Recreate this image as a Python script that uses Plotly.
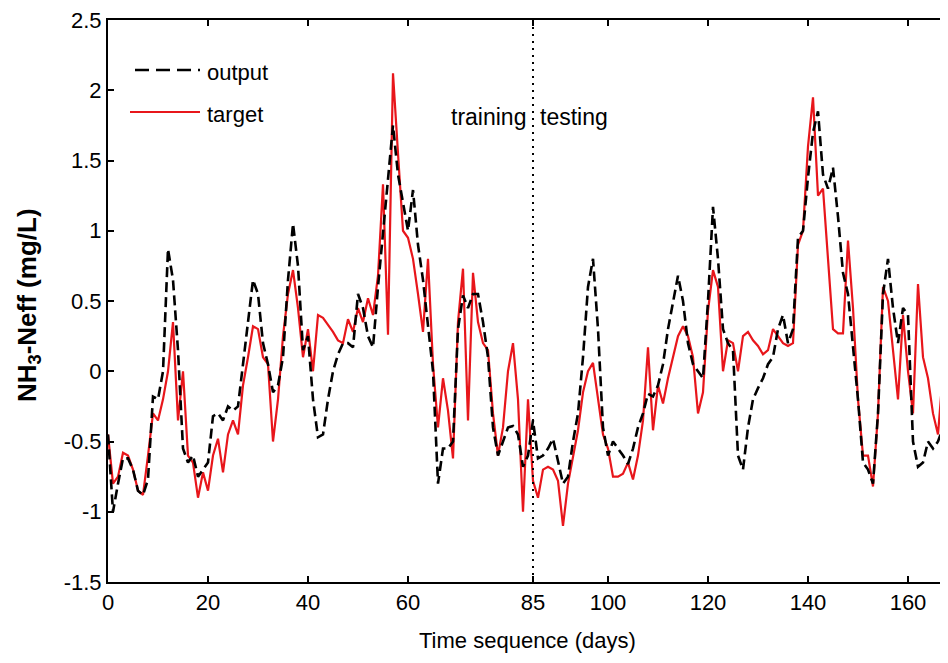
import plotly.graph_objects as go

days = list(range(0, 169))

target = [
    -0.45, -0.80, -0.75, -0.58, -0.60, -0.70, -0.85, -0.88, -0.60, -0.30,
    -0.35, -0.20, 0.00, 0.35, -0.35, 0.00, -0.60, -0.65, -0.90, -0.72,
    -0.85, -0.60, -0.48, -0.72, -0.45, -0.35, -0.45, -0.10, 0.10, 0.32,
    0.30, 0.10, 0.05, -0.50, -0.20, 0.25, 0.55, 0.72, 0.45, 0.10,
    0.30, 0.00, 0.40, 0.38, 0.33, 0.28, 0.22, 0.20, 0.37, 0.28,
    0.45, 0.35, 0.52, 0.40, 0.68, 1.33, 0.26, 2.12, 1.55, 1.00,
    0.95, 0.80, 0.55, 0.28, 0.80, 0.05, -0.40, -0.05, -0.28, -0.62,
    0.35, 0.73, -0.35, 0.70, 0.35, 0.20, 0.15, -0.30, -0.60, -0.40,
    0.00, 0.20, -0.20, -1.00, -0.20, -0.78, -0.90, -0.70, -0.68, -0.70,
    -0.78, -1.10, -0.80, -0.60, -0.42, -0.15, 0.00, 0.06, -0.20, -0.45,
    -0.55, -0.75, -0.75, -0.73, -0.65, -0.77, -0.60, -0.35, 0.17, -0.42,
    -0.10, -0.23, -0.05, 0.10, 0.25, 0.32, 0.25, 0.10, -0.30, -0.15,
    0.43, 0.72, 0.60, 0.00, 0.22, 0.20, 0.00, 0.25, 0.28, 0.22,
    0.18, 0.12, 0.15, 0.30, 0.25, 0.20, 0.18, 0.20, 0.90, 1.00,
    1.60, 1.95, 1.25, 1.30, 0.80, 0.30, 0.27, 0.27, 0.93, 0.45,
    -0.20, -0.60, -0.60, -0.82, -0.30, 0.60, 0.50, 0.17, -0.20, 0.40,
    0.00, -0.30, 0.62, 0.10, -0.05, -0.30, -0.45, 0.00, -0.40,
]

output = [
    -0.45, -1.00, -0.80, -0.62, -0.62, -0.70, -0.85, -0.88, -0.77, -0.18,
    -0.20, 0.00, 0.87, 0.65, 0.15, -0.55, -0.65, -0.60, -0.75, -0.70,
    -0.65, -0.32, -0.30, -0.35, -0.25, -0.28, -0.25, 0.05, 0.35, 0.65,
    0.55, 0.20, 0.05, -0.15, -0.10, 0.10, 0.65, 1.05, 0.75, 0.15,
    0.25, -0.20, -0.47, -0.45, -0.20, 0.00, 0.12, 0.20, 0.20, 0.17,
    0.55, 0.45, 0.25, 0.17, 0.60, 1.00, 1.40, 1.75, 1.40, 1.20,
    1.00, 1.29, 0.90, 0.65, 0.30, 0.00, -0.80, -0.55, -0.55, -0.50,
    0.30, 0.54, 0.45, 0.55, 0.55, 0.35, 0.10, -0.40, -0.60, -0.50,
    -0.40, -0.39, -0.45, -0.68, -0.60, -0.35, -0.62, -0.60, -0.55, -0.48,
    -0.65, -0.80, -0.75, -0.50, -0.30, 0.10, 0.60, 0.80, 0.30, -0.40,
    -0.60, -0.50, -0.55, -0.60, -0.66, -0.55, -0.40, -0.30, -0.16, -0.18,
    -0.10, 0.05, 0.30, 0.50, 0.68, 0.50, 0.20, 0.05, 0.00, -0.05,
    0.50, 1.17, 0.80, 0.30, 0.20, 0.15, -0.60, -0.70, -0.40, -0.20,
    -0.12, -0.05, 0.05, 0.10, 0.30, 0.40, 0.20, 0.30, 0.95, 1.00,
    1.38, 1.70, 1.85, 1.40, 1.30, 1.45, 1.10, 0.70, 0.55, 0.20,
    -0.20, -0.65, -0.70, -0.80, -0.30, 0.55, 0.80, 0.45, 0.20, 0.45,
    0.40, -0.50, -0.68, -0.65, -0.50, -0.55, -0.50, -0.40, -0.45,
]

x_ticks = [0, 20, 40, 60, 85, 100, 120, 140, 160]
y_ticks = [-1.5, -1, -0.5, 0, 0.5, 1, 1.5, 2, 2.5]
y_tick_labels = ["-1.5", "-1", "-0.5", "0", "0.5", "1", "1.5", "2", "2.5"]
split_day = 85

FONT = "Liberation Sans, Arial, sans-serif"
RED = "#e8161b"

fig = go.Figure()
fig.add_trace(go.Scatter(x=days, y=target, mode="lines", name="target",
                         line=dict(color=RED, width=2.2), showlegend=False))
fig.add_trace(go.Scatter(x=days, y=output, mode="lines", name="output",
                         line=dict(color="black", width=2.6, dash="10px,5px"), showlegend=False))

# split line
fig.add_shape(type="line", xref="x", yref="y", x0=split_day, x1=split_day, y0=-1.5, y1=2.5,
              line=dict(color="black", width=2, dash="2px,5px"))

# page offset of 8px (body margin); plot area on page: x 108..947, y 20..582
L, W, B, H = 108, 839, 582, 562
def px(xp): return (xp - L) / W
def py(yp): return (B - yp) / H
fig.add_shape(type="line", xref="paper", yref="paper", x0=px(135), x1=px(200), y0=py(70), y1=py(70),
              line=dict(color="black", width=2.6, dash="14px,7px"))
fig.add_shape(type="line", xref="paper", yref="paper", x0=px(130), x1=px(200), y0=py(112), y1=py(112),
              line=dict(color=RED, width=2.2))
fig.add_annotation(xref="paper", yref="paper", x=px(205), y=py(72), text="output", showarrow=False,
                   xanchor="left", yanchor="middle", font=dict(family=FONT, size=22, color="black"))
fig.add_annotation(xref="paper", yref="paper", x=px(205), y=py(114), text="target", showarrow=False,
                   xanchor="left", yanchor="middle", font=dict(family=FONT, size=22, color="black"))

fig.add_annotation(xref="x", yref="y", x=split_day, y=1.81, text="training", showarrow=False,
                   xanchor="right", yanchor="middle", xshift=-5, font=dict(family=FONT, size=23, color="black"))
fig.add_annotation(xref="x", yref="y", x=split_day, y=1.81, text="testing", showarrow=False,
                   xanchor="left", yanchor="middle", xshift=5, font=dict(family=FONT, size=23, color="black"))

# axis titles
fig.add_annotation(xref="paper", yref="paper", x=px(527), y=py(640), text="Time sequence (days)",
                   showarrow=False, xanchor="center", yanchor="middle",
                   font=dict(family=FONT, size=22, color="black"))
fig.add_annotation(xref="paper", yref="paper", x=px(28), y=py(305), text="<b>NH<sub>3</sub>-Neff (mg/L)</b>",
                   showarrow=False, xanchor="center", yanchor="middle", textangle=-90,
                   font=dict(family=FONT, size=26, color="black"))

fig.update_xaxes(range=[0, 167.8], tickmode="array", tickvals=x_ticks,
                 ticktext=[str(v) for v in x_ticks], ticks="inside", ticklen=6, tickwidth=2,
                 tickcolor="black", showline=True, linecolor="black", linewidth=2, mirror="ticks",
                 showgrid=False, zeroline=False, automargin=False, ticklabeloverflow="allow",
                 tickfont=dict(family=FONT, size=22, color="black"))
fig.update_yaxes(range=[-1.5, 2.5], tickmode="array", tickvals=y_ticks, ticktext=y_tick_labels,
                 ticks="inside", ticklen=6, tickwidth=2, tickcolor="black", showline=True,
                 linecolor="black", linewidth=2, mirror="ticks", showgrid=False, zeroline=False,
                 automargin=False, ticklabeloverflow="allow",
                 tickfont=dict(family=FONT, size=22, color="black"))

fig.update_layout(width=940, height=655, margin=dict(l=100, r=1, t=12, b=81),
                  plot_bgcolor="white", paper_bgcolor="white", showlegend=False)

fig.write_html("out.html")
